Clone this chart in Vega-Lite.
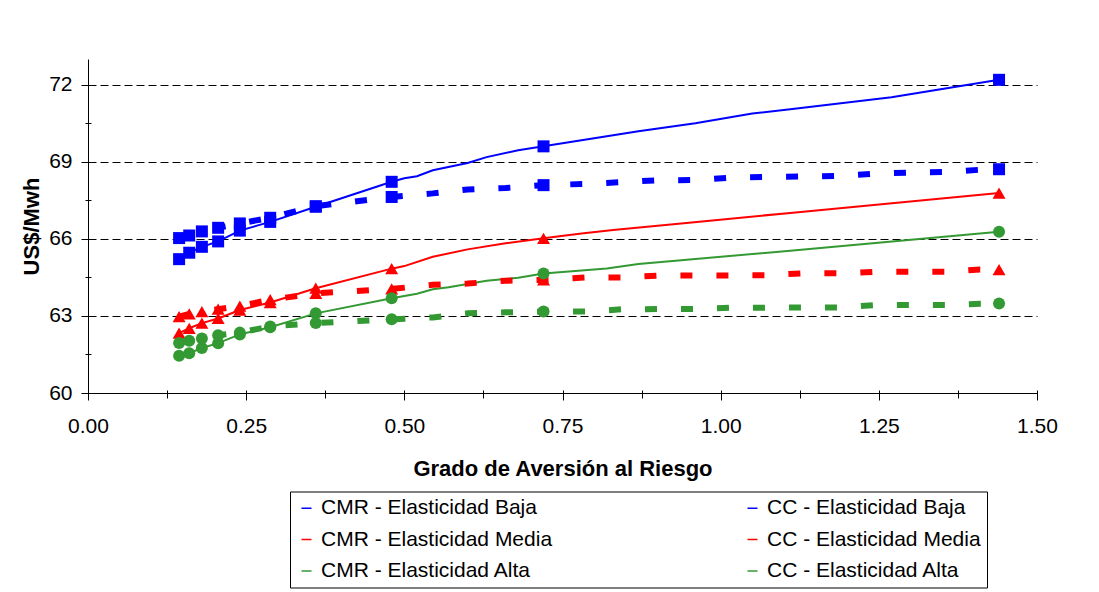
{
  "$schema": "https://vega.github.io/schema/vega-lite/v6.json",
  "width": 949,
  "height": 334,
  "autosize": {"type": "none"},
  "padding": {"left": 88, "top": 59, "right": 62, "bottom": 199},
  "background": "white",
  "config": {
    "view": {"stroke": null},
    "font": "Liberation Sans",
    "axis": {"labelFont": "Liberation Sans", "titleFont": "Liberation Sans", "labelColor": "#000", "titleColor": "#000", "tickColor": "#000", "domainColor": "#000"}
  },
  "datasets": {
    "d": [
      {"s": "CMR - Elasticidad Baja", "x": 0.144, "y": 65.21},
      {"s": "CMR - Elasticidad Baja", "x": 0.16, "y": 65.46},
      {"s": "CMR - Elasticidad Baja", "x": 0.18, "y": 65.69},
      {"s": "CMR - Elasticidad Baja", "x": 0.2057, "y": 65.9},
      {"s": "CMR - Elasticidad Baja", "x": 0.24, "y": 66.32},
      {"s": "CMR - Elasticidad Baja", "x": 0.288, "y": 66.66},
      {"s": "CMR - Elasticidad Baja", "x": 0.36, "y": 67.25},
      {"s": "CMR - Elasticidad Baja", "x": 0.48, "y": 68.22},
      {"s": "CMR - Elasticidad Baja", "x": 0.5, "y": 68.36},
      {"s": "CMR - Elasticidad Baja", "x": 0.52, "y": 68.44},
      {"s": "CMR - Elasticidad Baja", "x": 0.545, "y": 68.67},
      {"s": "CMR - Elasticidad Baja", "x": 0.6, "y": 68.95},
      {"s": "CMR - Elasticidad Baja", "x": 0.63, "y": 69.18},
      {"s": "CMR - Elasticidad Baja", "x": 0.68, "y": 69.45},
      {"s": "CMR - Elasticidad Baja", "x": 0.72, "y": 69.6},
      {"s": "CMR - Elasticidad Baja", "x": 0.78, "y": 69.84},
      {"s": "CMR - Elasticidad Baja", "x": 0.87, "y": 70.19},
      {"s": "CMR - Elasticidad Baja", "x": 0.96, "y": 70.5},
      {"s": "CMR - Elasticidad Baja", "x": 1.05, "y": 70.88},
      {"s": "CMR - Elasticidad Baja", "x": 1.11, "y": 71.04},
      {"s": "CMR - Elasticidad Baja", "x": 1.27, "y": 71.51},
      {"s": "CMR - Elasticidad Baja", "x": 1.44, "y": 72.19},
      {"s": "CC - Elasticidad Baja", "x": 0.144, "y": 66.03},
      {"s": "CC - Elasticidad Baja", "x": 0.16, "y": 66.13},
      {"s": "CC - Elasticidad Baja", "x": 0.18, "y": 66.29},
      {"s": "CC - Elasticidad Baja", "x": 0.2057, "y": 66.43},
      {"s": "CC - Elasticidad Baja", "x": 0.24, "y": 66.6},
      {"s": "CC - Elasticidad Baja", "x": 0.288, "y": 66.82},
      {"s": "CC - Elasticidad Baja", "x": 0.36, "y": 67.27},
      {"s": "CC - Elasticidad Baja", "x": 0.48, "y": 67.63},
      {"s": "CC - Elasticidad Baja", "x": 0.545, "y": 67.77},
      {"s": "CC - Elasticidad Baja", "x": 0.6, "y": 67.92},
      {"s": "CC - Elasticidad Baja", "x": 0.66, "y": 67.98},
      {"s": "CC - Elasticidad Baja", "x": 0.72, "y": 68.09},
      {"s": "CC - Elasticidad Baja", "x": 0.79, "y": 68.14},
      {"s": "CC - Elasticidad Baja", "x": 0.845, "y": 68.21},
      {"s": "CC - Elasticidad Baja", "x": 0.9, "y": 68.28},
      {"s": "CC - Elasticidad Baja", "x": 0.96, "y": 68.29},
      {"s": "CC - Elasticidad Baja", "x": 1.02, "y": 68.39},
      {"s": "CC - Elasticidad Baja", "x": 1.13, "y": 68.43},
      {"s": "CC - Elasticidad Baja", "x": 1.19, "y": 68.45},
      {"s": "CC - Elasticidad Baja", "x": 1.245, "y": 68.54},
      {"s": "CC - Elasticidad Baja", "x": 1.3, "y": 68.58},
      {"s": "CC - Elasticidad Baja", "x": 1.36, "y": 68.61},
      {"s": "CC - Elasticidad Baja", "x": 1.41, "y": 68.69},
      {"s": "CC - Elasticidad Baja", "x": 1.44, "y": 68.71},
      {"s": "CMR - Elasticidad Media", "x": 0.144, "y": 62.33},
      {"s": "CMR - Elasticidad Media", "x": 0.16, "y": 62.52},
      {"s": "CMR - Elasticidad Media", "x": 0.18, "y": 62.72},
      {"s": "CMR - Elasticidad Media", "x": 0.2057, "y": 62.9},
      {"s": "CMR - Elasticidad Media", "x": 0.24, "y": 63.23},
      {"s": "CMR - Elasticidad Media", "x": 0.288, "y": 63.52},
      {"s": "CMR - Elasticidad Media", "x": 0.36, "y": 64.08},
      {"s": "CMR - Elasticidad Media", "x": 0.48, "y": 64.84},
      {"s": "CMR - Elasticidad Media", "x": 0.5, "y": 64.94},
      {"s": "CMR - Elasticidad Media", "x": 0.545, "y": 65.3},
      {"s": "CMR - Elasticidad Media", "x": 0.6, "y": 65.59},
      {"s": "CMR - Elasticidad Media", "x": 0.66, "y": 65.83},
      {"s": "CMR - Elasticidad Media", "x": 0.72, "y": 66.02},
      {"s": "CMR - Elasticidad Media", "x": 0.78, "y": 66.21},
      {"s": "CMR - Elasticidad Media", "x": 0.83, "y": 66.34},
      {"s": "CMR - Elasticidad Media", "x": 0.95, "y": 66.63},
      {"s": "CMR - Elasticidad Media", "x": 1.11, "y": 67.01},
      {"s": "CMR - Elasticidad Media", "x": 1.44, "y": 67.78},
      {"s": "CC - Elasticidad Media", "x": 0.144, "y": 62.97},
      {"s": "CC - Elasticidad Media", "x": 0.16, "y": 63.08},
      {"s": "CC - Elasticidad Media", "x": 0.18, "y": 63.17},
      {"s": "CC - Elasticidad Media", "x": 0.2057, "y": 63.26},
      {"s": "CC - Elasticidad Media", "x": 0.24, "y": 63.38},
      {"s": "CC - Elasticidad Media", "x": 0.288, "y": 63.63},
      {"s": "CC - Elasticidad Media", "x": 0.36, "y": 63.88},
      {"s": "CC - Elasticidad Media", "x": 0.48, "y": 64.05},
      {"s": "CC - Elasticidad Media", "x": 0.545, "y": 64.21},
      {"s": "CC - Elasticidad Media", "x": 0.6, "y": 64.26},
      {"s": "CC - Elasticidad Media", "x": 0.66, "y": 64.37},
      {"s": "CC - Elasticidad Media", "x": 0.72, "y": 64.4},
      {"s": "CC - Elasticidad Media", "x": 0.79, "y": 64.5},
      {"s": "CC - Elasticidad Media", "x": 0.845, "y": 64.5},
      {"s": "CC - Elasticidad Media", "x": 0.9, "y": 64.57},
      {"s": "CC - Elasticidad Media", "x": 1.07, "y": 64.58},
      {"s": "CC - Elasticidad Media", "x": 1.13, "y": 64.66},
      {"s": "CC - Elasticidad Media", "x": 1.19, "y": 64.66},
      {"s": "CC - Elasticidad Media", "x": 1.245, "y": 64.72},
      {"s": "CC - Elasticidad Media", "x": 1.36, "y": 64.72},
      {"s": "CC - Elasticidad Media", "x": 1.41, "y": 64.81},
      {"s": "CC - Elasticidad Media", "x": 1.44, "y": 64.8},
      {"s": "CMR - Elasticidad Alta", "x": 0.144, "y": 61.45},
      {"s": "CMR - Elasticidad Alta", "x": 0.16, "y": 61.55},
      {"s": "CMR - Elasticidad Alta", "x": 0.18, "y": 61.75},
      {"s": "CMR - Elasticidad Alta", "x": 0.2057, "y": 61.94},
      {"s": "CMR - Elasticidad Alta", "x": 0.24, "y": 62.28},
      {"s": "CMR - Elasticidad Alta", "x": 0.288, "y": 62.56},
      {"s": "CMR - Elasticidad Alta", "x": 0.36, "y": 63.1},
      {"s": "CMR - Elasticidad Alta", "x": 0.48, "y": 63.69},
      {"s": "CMR - Elasticidad Alta", "x": 0.52, "y": 63.86},
      {"s": "CMR - Elasticidad Alta", "x": 0.545, "y": 64.04},
      {"s": "CMR - Elasticidad Alta", "x": 0.57, "y": 64.12},
      {"s": "CMR - Elasticidad Alta", "x": 0.63, "y": 64.37},
      {"s": "CMR - Elasticidad Alta", "x": 0.68, "y": 64.49},
      {"s": "CMR - Elasticidad Alta", "x": 0.72, "y": 64.65},
      {"s": "CMR - Elasticidad Alta", "x": 0.82, "y": 64.85},
      {"s": "CMR - Elasticidad Alta", "x": 0.87, "y": 65.02},
      {"s": "CMR - Elasticidad Alta", "x": 1.11, "y": 65.54},
      {"s": "CMR - Elasticidad Alta", "x": 1.44, "y": 66.28},
      {"s": "CC - Elasticidad Alta", "x": 0.144, "y": 61.95},
      {"s": "CC - Elasticidad Alta", "x": 0.16, "y": 62.03},
      {"s": "CC - Elasticidad Alta", "x": 0.18, "y": 62.12},
      {"s": "CC - Elasticidad Alta", "x": 0.2057, "y": 62.25},
      {"s": "CC - Elasticidad Alta", "x": 0.24, "y": 62.35},
      {"s": "CC - Elasticidad Alta", "x": 0.288, "y": 62.59},
      {"s": "CC - Elasticidad Alta", "x": 0.36, "y": 62.72},
      {"s": "CC - Elasticidad Alta", "x": 0.48, "y": 62.87},
      {"s": "CC - Elasticidad Alta", "x": 0.545, "y": 62.94},
      {"s": "CC - Elasticidad Alta", "x": 0.6, "y": 63.1},
      {"s": "CC - Elasticidad Alta", "x": 0.66, "y": 63.14},
      {"s": "CC - Elasticidad Alta", "x": 0.72, "y": 63.17},
      {"s": "CC - Elasticidad Alta", "x": 0.79, "y": 63.17},
      {"s": "CC - Elasticidad Alta", "x": 0.845, "y": 63.26},
      {"s": "CC - Elasticidad Alta", "x": 0.96, "y": 63.27},
      {"s": "CC - Elasticidad Alta", "x": 1.02, "y": 63.32},
      {"s": "CC - Elasticidad Alta", "x": 1.19, "y": 63.33},
      {"s": "CC - Elasticidad Alta", "x": 1.245, "y": 63.42},
      {"s": "CC - Elasticidad Alta", "x": 1.36, "y": 63.43},
      {"s": "CC - Elasticidad Alta", "x": 1.41, "y": 63.47},
      {"s": "CC - Elasticidad Alta", "x": 1.44, "y": 63.48}
    ]
  },
  "data": {"name": "d"},
  "resolve": {"axis": {"x": "independent", "y": "independent"}},
  "layer": [
    {
      "transform": [{"filter": "indexof(datum.s, 'CMR') === 0"}],
      "mark": {"type": "line", "strokeWidth": 2},
      "encoding": {
        "x": {"field": "x", "type": "quantitative", "scale": {"domain": [0, 1.5], "nice": false, "zero": false},
          "axis": {"orient": "bottom", "values": [0, 0.25, 0.5, 0.75, 1, 1.25, 1.5], "format": ".2f", "title": "Grado de Aversión al Riesgo", "titleFontSize": 22, "titleFontWeight": "bold", "titlePadding": 22, "labelFontSize": 21, "labelPadding": 22, "labelFlush": false, "labelOverlap": false, "ticks": false, "grid": false, "domainWidth": 1}},
        "y": {"field": "y", "type": "quantitative", "scale": {"domain": [60, 73], "nice": false, "zero": false},
          "axis": {"orient": "left", "values": [60, 63, 66, 69, 72], "title": "US$/Mwh", "titleFontSize": 22, "titleFontWeight": "bold", "titlePadding": 5, "labelFontSize": 21, "labelPadding": 16, "ticks": false, "grid": true, "gridDash": [8, 4], "gridColor": "#000", "gridWidth": 1, "domainWidth": 1}},
        "color": {"field": "s", "type": "nominal",
          "scale": {"domain": ["CMR - Elasticidad Baja", "CMR - Elasticidad Media", "CMR - Elasticidad Alta", "CC - Elasticidad Baja", "CC - Elasticidad Media", "CC - Elasticidad Alta"], "range": ["#0000FF", "#FF0000", "#339933", "#0000FF", "#FF0000", "#339933"]},
          "legend": {"title": null, "orient": "none", "legendX": 202, "legendY": 432.5, "columns": 2, "columnPadding": 189, "rowPadding": 9.5, "labelFontSize": 21, "labelColor": "#000", "labelLimit": 400, "padding": 6, "strokeColor": "#000"}}
      }
    },
    {
      "transform": [{"filter": "indexof(datum.s, 'CC') === 0"}],
      "mark": {"type": "line", "strokeWidth": 6, "strokeDash": [12, 24]},
      "encoding": {
        "x": {"field": "x", "type": "quantitative", "scale": {"domain": [0, 1.5], "nice": false, "zero": false},
          "axis": {"orient": "bottom", "values": [0, 0.25, 0.5, 0.75, 1, 1.25, 1.5], "labels": false, "domain": false, "grid": false, "ticks": true, "tickSize": 10, "offset": -3, "title": null}},
        "y": {"field": "y", "type": "quantitative", "scale": {"domain": [60, 73], "nice": false, "zero": false},
          "axis": {"orient": "left", "values": [60, 63, 66, 69, 72], "labels": false, "domain": false, "grid": false, "ticks": true, "tickSize": 10, "offset": -3, "title": null}},
        "color": {"field": "s", "type": "nominal", "legend": null}
      }
    },
    {
      "transform": [{"filter": {"and": [{"field": "x", "oneOf": [0.144, 0.16, 0.18, 0.2057, 0.24, 0.288, 0.36, 0.48, 0.72, 1.44]}, {"field": "s", "oneOf": ["CMR - Elasticidad Baja", "CC - Elasticidad Baja"]}]}}],
      "mark": {"type": "point", "shape": "square", "size": 144, "filled": true, "opacity": 1},
      "encoding": {
        "x": {"field": "x", "type": "quantitative", "scale": {"domain": [0, 1.5], "nice": false, "zero": false},
          "axis": {"orient": "bottom", "values": [0.125, 0.375, 0.625, 0.875, 1.125, 1.375], "labels": false, "domain": false, "grid": false, "ticks": true, "tickSize": 8, "offset": -3, "title": null}},
        "y": {"field": "y", "type": "quantitative", "scale": {"domain": [60, 73], "nice": false, "zero": false},
          "axis": {"orient": "left", "values": [61.5, 64.5, 67.5, 70.5], "labels": false, "domain": false, "grid": false, "ticks": true, "tickSize": 6, "offset": -3, "title": null}},
        "color": {"field": "s", "type": "nominal", "legend": null}
      }
    },
    {
      "transform": [{"filter": {"and": [{"field": "x", "oneOf": [0.144, 0.16, 0.18, 0.2057, 0.24, 0.288, 0.36, 0.48, 0.72, 1.44]}, {"field": "s", "oneOf": ["CMR - Elasticidad Media", "CC - Elasticidad Media"]}]}}],
      "mark": {"type": "point", "shape": "triangle-up", "size": 169, "filled": true, "opacity": 1},
      "encoding": {
        "x": {"field": "x", "type": "quantitative", "scale": {"domain": [0, 1.5], "nice": false, "zero": false}, "axis": null},
        "y": {"field": "y", "type": "quantitative", "scale": {"domain": [60, 73], "nice": false, "zero": false}, "axis": null},
        "color": {"field": "s", "type": "nominal", "legend": null}
      }
    },
    {
      "transform": [{"filter": {"and": [{"field": "x", "oneOf": [0.144, 0.16, 0.18, 0.2057, 0.24, 0.288, 0.36, 0.48, 0.72, 1.44]}, {"field": "s", "oneOf": ["CMR - Elasticidad Alta", "CC - Elasticidad Alta"]}]}}],
      "mark": {"type": "point", "shape": "circle", "size": 144, "filled": true, "opacity": 1},
      "encoding": {
        "x": {"field": "x", "type": "quantitative", "scale": {"domain": [0, 1.5], "nice": false, "zero": false}, "axis": null},
        "y": {"field": "y", "type": "quantitative", "scale": {"domain": [60, 73], "nice": false, "zero": false}, "axis": null},
        "color": {"field": "s", "type": "nominal", "legend": null}
      }
    }
  ]
}
